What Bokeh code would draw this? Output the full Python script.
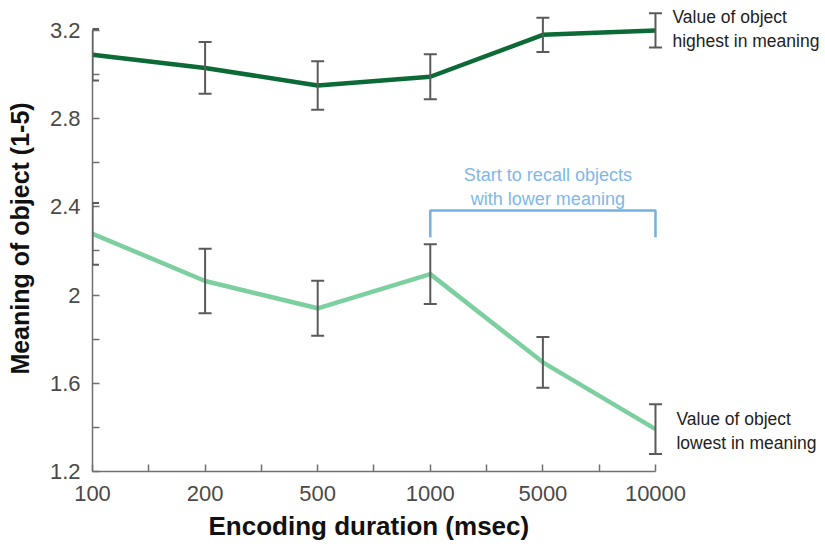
from bokeh.plotting import figure
from bokeh.models import ColumnDataSource, Range1d, FixedTicker, Whisker, TeeHead, Title
from bokeh.core.properties import value
from bokeh.embed import file_html
from bokeh.resources import INLINE

# Encoding durations (msec), shown as equally spaced categories
durations = ["100", "200", "500", "1000", "5000", "10000"]

# Mean meaning rating of the recalled object, with error bar half-widths
high_mean = [3.09, 3.03, 2.95, 2.99, 3.18, 3.20]
high_err = [0.117, 0.117, 0.110, 0.102, 0.078, 0.078]
low_mean = [2.278, 2.064, 1.940, 2.095, 1.695, 1.392]
low_err = [0.140, 0.146, 0.125, 0.135, 0.115, 0.113]

# Y-axis ticks
y_ticks = [1.2, 1.6, 2.0, 2.4, 2.8, 3.2]
y_tick_labels = ["1.2", "1.6", "2", "2.4", "2.8", "3.2"]
y_minor = [1.4, 1.8, 2.2, 2.6, 3.0]

# Bracket marking where lower-meaning objects start being recalled
bracket_from, bracket_to = "1000", "10000"
bracket_low, bracket_high = 2.262, 2.384

FONT = "Liberation Sans"
DARK = "#0c6a36"
LIGHT = "#7ccf9e"
ERR = "#5a5a5a"
BLUE = "#74b2e6"

xs = list(range(len(durations)))
n = len(durations)

p = figure(
    width=825, height=546,
    output_backend="svg", toolbar_location=None,
    x_range=Range1d(0, 6.51), y_range=Range1d(1.2, 3.313),
    min_border_left=92, min_border_right=0, min_border_top=5, min_border_bottom=75,
)
p.outline_line_color = None
p.grid.visible = False
p.background_fill_color = "white"

# Axes
xa = p.xaxis[0]
xa.ticker = FixedTicker(ticks=xs, minor_ticks=[i + 0.5 for i in xs[:-1]])
xa.major_label_overrides = {i: d for i, d in zip(xs, durations)}
xa.bounds = (0, n - 1)
ya = p.yaxis[0]
ya.ticker = FixedTicker(ticks=y_ticks, minor_ticks=y_minor)
ya.major_label_overrides = {t: s for t, s in zip(y_ticks, y_tick_labels)}
ya.bounds = (y_ticks[0], y_ticks[-1])
ya.axis_label = "Meaning of object (1-5)"
ya.axis_label_text_font_size = "25px"
ya.axis_label_text_font_style = "bold"
ya.axis_label_text_font = FONT
ya.axis_label_text_color = "#111111"
ya.axis_label_standoff = 13
for ax in (xa, ya):
    ax.axis_line_color = "#707070"
    ax.axis_line_width = 1.5
    ax.major_tick_line_color = "#707070"
    ax.minor_tick_line_color = "#707070"
    ax.major_tick_line_width = 1.5
    ax.minor_tick_line_width = 1.5
    ax.major_tick_in = 7
    ax.major_tick_out = 0
    ax.minor_tick_in = 7
    ax.minor_tick_out = 0
    ax.major_label_text_font = FONT
    ax.major_label_text_font_size = "22px"
    ax.major_label_text_color = "#4a4a4a"
ya.major_label_standoff = 12
xa.major_label_standoff = 14

# X-axis title, shifted so it sits centred under the axis span
p.add_layout(Title(
    text="Encoding duration (msec)", align="left", offset=116, standoff=10,
    text_font=FONT, text_font_size="26px", text_font_style="bold",
    text_color="#111111",
), "below")

# Series lines
p.line(xs, high_mean, line_color=DARK, line_width=4.5, line_join="round")
p.line(xs, low_mean, line_color=LIGHT, line_width=4.5, line_join="round")

# Error bars
for mean, err in ((high_mean, high_err), (low_mean, low_err)):
    src = ColumnDataSource(dict(
        x=xs,
        upper=[m + e for m, e in zip(mean, err)],
        lower=[m - e for m, e in zip(mean, err)],
    ))
    w = Whisker(
        base="x", upper="upper", lower="lower", source=src,
        line_color=ERR, line_width=2, level="annotation",
        upper_head=TeeHead(size=13, line_color=ERR, line_width=2),
        lower_head=TeeHead(size=13, line_color=ERR, line_width=2),
    )
    p.add_layout(w)

# Bracket
bx0 = durations.index(bracket_from)
bx1 = durations.index(bracket_to)
p.line([bx0, bx0, bx1, bx1], [bracket_low, bracket_high, bracket_high, bracket_low],
       line_color=BLUE, line_width=2.5)
p.text(x=[(bx0 + bx1) / 2], y=[bracket_high],
       text=["Start to recall objects\nwith lower meaning"],
       text_align="center", text_baseline="bottom", x_offset=5, y_offset=-1,
       text_font=value(FONT), text_font_size="18px", text_color="#7db8ea",
       text_line_height=1.2)

# End-of-line notes
p.text(x=[n - 1], y=[high_mean[-1]], text=["Value of object\nhighest in meaning"],
       x_offset=17, y_offset=-1, text_baseline="middle", text_align="left",
       text_font=value(FONT), text_font_size="17.5px", text_color="#222222",
       text_line_height=1.2)
p.text(x=[n - 1], y=[low_mean[-1]], text=["Value of object\nlowest in meaning"],
       x_offset=21, y_offset=2, text_baseline="middle", text_align="left",
       text_font=value(FONT), text_font_size="17.5px", text_color="#222222",
       text_line_height=1.2)

open("out.html", "w").write(file_html(p, INLINE))
